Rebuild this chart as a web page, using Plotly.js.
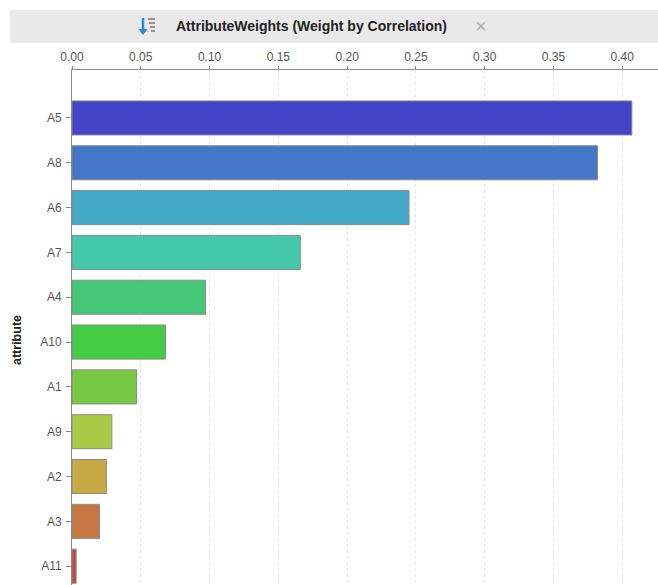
<!DOCTYPE html>
<html>
<head>
<meta charset="utf-8">
<script src="https://cdn.plot.ly/plotly-3.0.1.min.js"></script>
<style>
  html, body { margin: 0; padding: 0; background: #ffffff; }
  #chart { width: 658px; height: 585px; }
</style>
</head>
<body>
<div id="chart"></div>
<script>
// Data
const attributes = ["A5", "A8", "A6", "A7", "A4", "A10", "A1", "A9", "A2", "A3", "A11"];
const weights = [0.407, 0.382, 0.245, 0.166, 0.097, 0.068, 0.047, 0.029, 0.025, 0.020, 0.003];
const barColors = ["#4444c8", "#4477c8", "#44aac8", "#44c8aa", "#44c877", "#44cc44",
                   "#77c844", "#aac844", "#c8aa44", "#c87744", "#c84444"];
const xTicks = [0, 0.05, 0.10, 0.15, 0.20, 0.25, 0.30, 0.35, 0.40];
const xTickLabels = ["0.00", "0.05", "0.10", "0.15", "0.20", "0.25", "0.30", "0.35", "0.40"];
const chartTitle = "AttributeWeights (Weight by Correlation)";
const yAxisTitle = "attribute";

const trace = {
  type: "bar",
  orientation: "h",
  x: weights,
  y: attributes,
  marker: { color: barColors, line: { color: "#8a8a8a", width: 1 } },
  width: 0.76,
  hoverinfo: "x+y"
};

// plot area: x 72..658 px, y 70..585 px
const L = 72, T = 70, W = 658, H = 585;
const pw = W - L, ph = H - T;
const px = (p) => (p - L) / pw;          // pixel x -> paper x
const py = (p) => 1 - (p - T) / ph;      // pixel y -> paper y

const layout = {
  width: W,
  height: H,
  margin: { l: L, r: 0, t: T, b: 0, pad: 0 },
  paper_bgcolor: "#ffffff",
  plot_bgcolor: "#ffffff",
  showlegend: false,
  font: { family: "Liberation Sans, Arial, sans-serif", size: 12, color: "#444444" },
  xaxis: {
    side: "top",
    range: [0, 0.426],
    tickvals: xTicks,
    ticktext: xTickLabels,
    showgrid: true,
    gridcolor: "#e6e6e6",
    griddash: "dot",
    gridwidth: 1,
    zeroline: false,
    showline: true,
    linecolor: "#8a8a8a",
    linewidth: 1,
    ticks: "outside",
    ticklen: 3,
    tickcolor: "#8a8a8a",
    tickfont: { size: 12, color: "#555555" },
    fixedrange: true
  },
  yaxis: {
    type: "category",
    categoryorder: "array",
    categoryarray: attributes,
    range: [10.42, -1.07],
    showgrid: false,
    zeroline: false,
    showline: true,
    linecolor: "#8a8a8a",
    linewidth: 1,
    ticks: "outside",
    ticklen: 5,
    tickcolor: "#8a8a8a",
    tickfont: { size: 12, color: "#555555" },
    ticklabelstandoff: 2,
    fixedrange: true
  },
  shapes: [
    // tab bar background
    { type: "rect", xref: "paper", yref: "paper",
      x0: px(10), x1: px(658), y0: py(43), y1: py(10),
      fillcolor: "#e9e9e9", line: { width: 0 }, layer: "below" },
    // sort icon: blue arrow shaft
    { type: "line", xref: "paper", yref: "paper",
      x0: px(143), x1: px(143), y0: py(31), y1: py(18),
      line: { color: "#2a8ad8", width: 2.5 } },
    // arrow head
    { type: "path", xref: "paper", yref: "paper",
      path: `M ${px(138.5)} ${py(29)} L ${px(147.5)} ${py(29)} L ${px(143)} ${py(35)} Z`,
      fillcolor: "#2a8ad8", line: { width: 0 } },
    // icon lines
    { type: "line", xref: "paper", yref: "paper",
      x0: px(148), x1: px(155), y0: py(19), y1: py(19),
      line: { color: "#777777", width: 1.5 } },
    { type: "line", xref: "paper", yref: "paper",
      x0: px(149), x1: px(155), y0: py(23), y1: py(23),
      line: { color: "#777777", width: 1.5 } },
    { type: "line", xref: "paper", yref: "paper",
      x0: px(150), x1: px(155), y0: py(27), y1: py(27),
      line: { color: "#777777", width: 1.5 } },
    { type: "line", xref: "paper", yref: "paper",
      x0: px(151), x1: px(155), y0: py(31), y1: py(31),
      line: { color: "#777777", width: 1.5 } }
  ],
  annotations: [
    { text: "<b>" + chartTitle + "</b>", xref: "paper", yref: "paper",
      x: px(311), y: py(26), xanchor: "center", yanchor: "middle",
      showarrow: false, font: { size: 14, color: "#222222", family: "Liberation Sans, Arial, sans-serif" } },
    { text: "\u00d7", xref: "paper", yref: "paper",
      x: px(481), y: py(26), xanchor: "center", yanchor: "middle",
      showarrow: false, font: { size: 20, color: "#b0b0b0" } },
    { text: "<b>" + yAxisTitle + "</b>", xref: "paper", yref: "paper",
      x: px(17), y: py(340), xanchor: "center", yanchor: "middle", textangle: -90,
      showarrow: false, font: { size: 12.5, color: "#222222" } }
  ]
};

Plotly.newPlot("chart", [trace], layout, { displayModeBar: false, staticPlot: true });
</script>
</body>
</html>
